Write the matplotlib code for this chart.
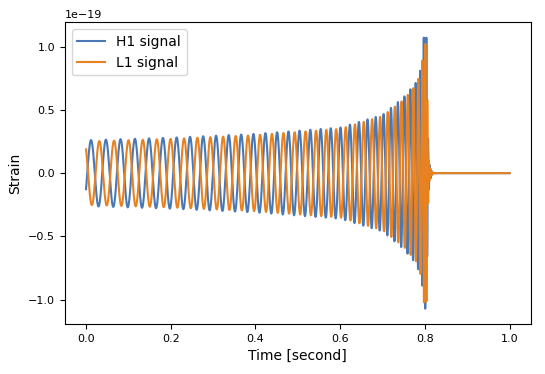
import numpy as np
import matplotlib
matplotlib.use("Agg")
import matplotlib.pyplot as plt
from matplotlib.ticker import MultipleLocator

# ---- values ----
fs = 16384                     # sample rate [Hz]
duration = 1.0                 # seconds
# instantaneous frequency knots (Hz) read from the spacing of peaks
freq_t  = [0.00, 0.20, 0.40, 0.50, 0.60, 0.65, 0.70, 0.75, 0.78, 0.79, 0.80, 0.805, 1.00]
freq_hz = [28.0, 31.0, 35.0, 38.5, 44.0, 48.5, 55.0, 66.0, 85.0, 105., 150., 250., 250.]
# amplitude envelope knots (units of 1e-19) read from the peak heights
env_t  = [0.00, 0.20, 0.40, 0.60, 0.70, 0.75, 0.78, 0.793, 0.796, 0.8035, 0.807, 0.810, 0.815, 0.820, 1.00]
h1_env = [0.26, 0.28, 0.31, 0.36, 0.46, 0.60, 0.72, 0.85, 1.07, 1.07, 0.30, 0.08, 0.02, 0.00, 0.00]
l1_env = [0.25, 0.27, 0.30, 0.35, 0.45, 0.58, 0.70, 0.83, 1.02, 1.02, 0.28, 0.07, 0.02, 0.00, 0.00]
h1_phase0 = -2.09              # H1 starts at -0.13 rising
l1_phase0 = 0.71               # L1 starts at +0.19 falling
labels = ["H1 signal", "L1 signal"]
colors = ["#4a78b5", "#e8811f"]

# ---- build the sampled series ----
t = np.arange(0, duration + 0.5 / fs, 1.0 / fs)
f = np.interp(t, freq_t, freq_hz)
phase = 2 * np.pi * np.cumsum(f) / fs
h1 = np.interp(t, env_t, h1_env) * np.cos(phase + h1_phase0) * 1e-19
l1 = np.interp(t, env_t, l1_env) * np.cos(phase + l1_phase0) * 1e-19

fig = plt.figure(figsize=(5.45, 3.74), dpi=100)
ax = fig.add_axes([0.119, 0.134, 0.855, 0.806])
ax.plot(t, h1, color=colors[0], lw=1.5, label=labels[0])
ax.plot(t, l1, color=colors[1], lw=1.5, label=labels[1])
ax.set_ylim(-1.19e-19, 1.19e-19)
ax.yaxis.set_major_locator(MultipleLocator(0.5e-19))
ax.set_xlabel("Time [second]", fontsize=10)
ax.set_ylabel("Strain", fontsize=10)
ax.tick_params(labelsize=8)
ax.yaxis.get_offset_text().set_fontsize(8)
ax.legend(loc="upper left", fontsize=10)
fig.savefig("out.png", dpi=100)
